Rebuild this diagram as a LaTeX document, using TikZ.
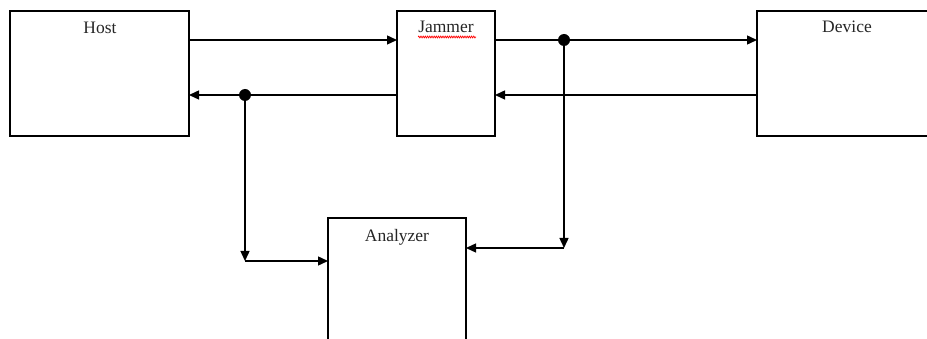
\documentclass[tikz,border=0pt]{standalone}
\usepackage{fontspec}
\setmainfont{Liberation Serif}
\usetikzlibrary{arrows.meta,decorations.pathmorphing}
\begin{document}
\begin{tikzpicture}[x=1pt,y=-1pt,
  box/.style={draw,line width=1.4pt,minimum width=#1,minimum height=125pt,inner sep=0pt,outer sep=0pt},
  lbl/.style={font=\fontsize{17.5}{19}\selectfont,anchor=base,inner sep=0pt,text=black!85},
  wire/.style={line width=1.4pt},
  arr/.style={wire,-{Triangle[length=10pt,width=9pt]}},
  dotnode/.style={circle,fill,inner sep=0pt,minimum size=12pt},
  squiggle/.style={red,line width=0.7pt,decorate,decoration={snake,amplitude=0.9pt,segment length=2.2pt}}]
\path[use as bounding box] (0,0) rectangle (927,339);
\clip (0,0) rectangle (927,339);
% boxes
\node[box=179pt] (host) at (99.5,73.5) {};
\node[box=98pt] (jam) at (446,73.5) {};
\node[box=180pt] (dev) at (847,73.5) {};
\node[box=138pt] (an) at (397,280.5) {};
% labels
\node[lbl] (hostlbl) at (100,34) {Host};
\node[lbl] (jamlbl) at (446,33) {Jammer};
\node[lbl] (devlbl) at (847,33) {Device};
\node[lbl] (anlbl) at (397,242) {Analyzer};
\draw[squiggle] (jamlbl.base west) ++(0,4) -- ++(58,0);
% rows
\coordinate (t) at (0,40);
\coordinate (b) at (0,95);
\node[dotnode] (d1) at (564,40) {};
\node[dotnode] (d2) at (245,95) {};
\coordinate (c1) at (245,261);
\coordinate (c2) at (564,248);
\draw[arr] (host.east |- t) -- (jam.west |- t);
\draw[arr] (jam.east |- t) -- (dev.west |- t);
\draw[arr] (dev.west |- b) -- (jam.east |- b);
\draw[arr] (jam.west |- b) -- (host.east |- b);
\draw[arr] (d2.center) -- (c1);
\draw[arr] (c1) -- (an.west |- c1);
\draw[arr] (d1.center) -- (c2);
\draw[arr] (c2) -- (an.east |- c2);
\end{tikzpicture}
\end{document}
